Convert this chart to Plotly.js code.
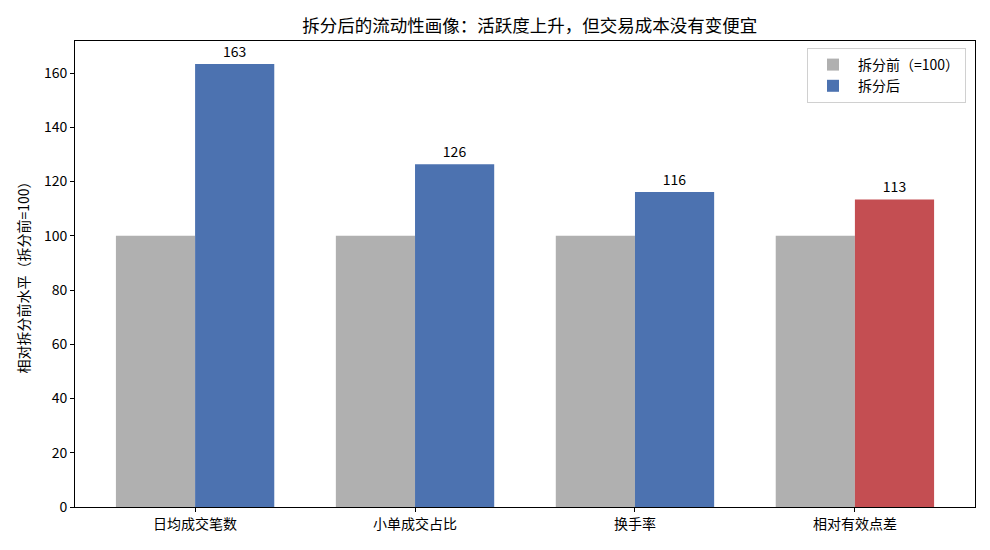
<!DOCTYPE html>
<html><head><meta charset="utf-8">
<script src="https://cdn.plot.ly/plotly-3.0.1.min.js"></script>
<style>html,body{margin:0;padding:0;background:#fff}</style>
</head><body><div id="chart" style="width:990px;height:550px"></div>
<script>
const categories = ["日均成交笔数", "小单成交占比", "换手率", "相对有效点差"];
const beforeValues = [100, 100, 100, 100];
const afterValues = [163.3, 126.4, 116.1, 113.4];
const afterColors = ["#4c72b0", "#4c72b0", "#4c72b0", "#c44e52"];
const FONT = '"Noto Sans CJK SC", "DejaVu Sans", sans-serif';

const traces = [
  {type:'bar', name:'拆分前（=100）', x:[0,1,2,3], y:beforeValues, marker:{color:'#b0b0b0'}, hoverinfo:'skip'},
  {type:'bar', name:'拆分后', x:[0,1,2,3], y:afterValues, marker:{color:afterColors},
   texttemplate:'%{y:.0f}', textposition:'outside', cliponaxis:false,
   textfont:{family:FONT, size:14, color:'#000'}, hoverinfo:'skip'}
];
const layout = {
  width:990, height:550,
  margin:{l:75, r:15, t:41, b:43},
  paper_bgcolor:'#fff', plot_bgcolor:'#fff',
  font:{family:FONT, size:14, color:'#000'},
  barmode:'group', bargap:0.28, bargroupgap:0,
  title:{text:'拆分后的流动性画像：活跃度上升，但交易成本没有变便宜', x:0.535, xanchor:'center', y:0.953, yanchor:'middle', font:{family:FONT, size:17.5, color:'#000'}},
  xaxis:{range:[-0.546, 3.546], tickmode:'array', tickvals:[0,1,2,3], ticktext:categories,
    ticks:'outside', ticklen:4, tickcolor:'#000', showgrid:false, zeroline:false,
    showline:true, linecolor:'#000', linewidth:1, mirror:true, tickfont:{size:14}},
  yaxis:{range:[0, 171.8], tickmode:'linear', tick0:0, dtick:20,
    ticks:'outside', ticklen:4, tickcolor:'#000', showgrid:false, zeroline:false,
    showline:true, linecolor:'#000', linewidth:1, mirror:true, tickfont:{size:14},
    title:{text:'相对拆分前水平（拆分前=100）', font:{size:14}, standoff:10}},
  legend:{x:0.99, xanchor:'right', y:0.985, yanchor:'top', bgcolor:'rgba(255,255,255,0.8)',
    bordercolor:'#d0d0d0', borderwidth:1, font:{size:14}, tracegroupgap:2, itemwidth:40}
};
Plotly.newPlot('chart', traces, layout, {displayModeBar:false, staticPlot:true});
</script></body></html>
